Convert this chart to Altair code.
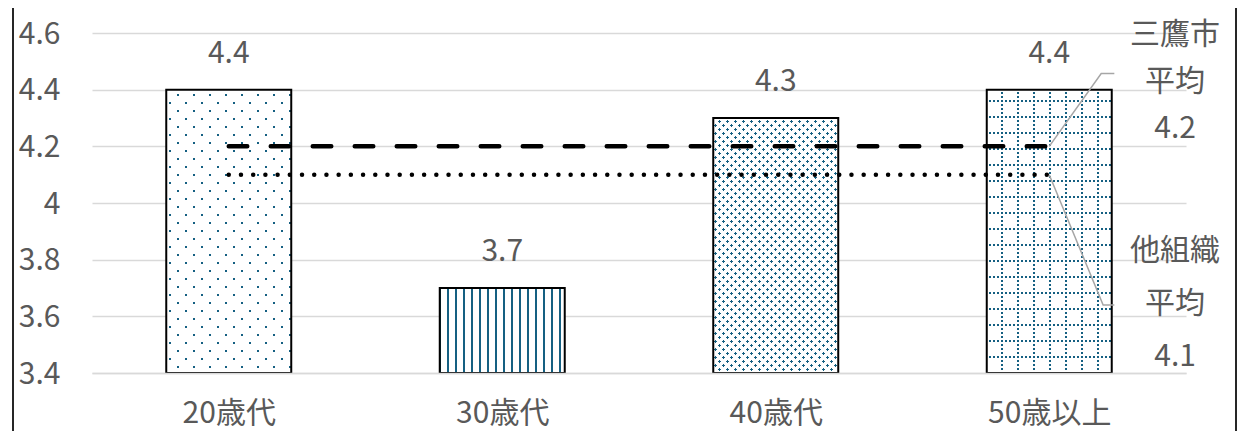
import json
import altair as alt
import pandas as pd

# ---------------- data ----------------
categories = ["20歳代", "30歳代", "40歳代", "50歳以上"]
scores = [4.4, 3.7, 4.3, 4.4]
mitaka_avg = 4.2
other_avg = 4.1
y_ticks = [3.4, 3.6, 3.8, 4.0, 4.2, 4.4, 4.6]
mitaka_label = "三鷹市\n平均\n4.2"
other_label = "他組織\n平均\n4.1"

# ---------------- layout / style constants ----------------
Y_MIN, Y_MAX = 3.4, 4.6
X_MIN, X_MAX = 0.0, 4.0
PLOT_W, PLOT_H = 1094, 340
BAR_FRAC = 0.457
UX = PLOT_W / (X_MAX - X_MIN)
UY = PLOT_H / (Y_MAX - Y_MIN)
BAR_W = BAR_FRAC * UX

TEAL = "#156082"
WHITE = "#ffffff"
CLEAR = "rgba(255,255,255,0)"
TEXT = "#595959"
GRID = "#d9d9d9"
LEADER = "#a6a6a6"
FONT = "Noto Sans CJK JP"
FS = 30

# annotation anchors (data units)
LABEL_X = 3.96
MITAKA_LABEL_Y = 4.457
OTHER_LABEL_Y = 3.640
LEADER_KNEE_X = [3.69, 3.697]
LEADER_END_X = 3.738

xscale = alt.Scale(domain=[X_MIN, X_MAX], nice=False, zero=False)
yscale = alt.Scale(domain=[Y_MIN, Y_MAX], nice=False, zero=False)

pos = [i + 0.5 for i in range(len(categories))]
bars = pd.DataFrame({"cat": categories, "score": scores, "pos": pos})
bars["left"] = bars["pos"] - BAR_FRAC / 2
bars["right"] = bars["pos"] + BAR_FRAC / 2
bars["base"] = Y_MIN

label_expr = json.dumps(categories, ensure_ascii=False) + "[floor(datum.value)]"

X_AXIS = alt.Axis(
    values=pos, labelExpr=label_expr, grid=False, domain=True,
    domainColor=GRID, domainWidth=1.5, ticks=False, tickSize=0,
    labelPadding=25, labelFontSize=FS, labelColor=TEXT, labelFont=FONT,
    labelFlush=False, labelOverlap=False, title=None, zindex=1,
)
Y_AXIS = alt.Axis(
    values=y_ticks, format="~g", grid=True, gridColor=GRID, gridWidth=1.5,
    domain=False, ticks=False, tickSize=0, labelPadding=32,
    labelFontSize=FS, labelColor=TEXT, labelFont=FONT, labelOffset=1,
    title=None, zindex=0,
)


def X(field):
    return alt.X(field, scale=xscale, axis=X_AXIS)


def Y(field):
    return alt.Y(field, scale=yscale, axis=Y_AXIS)


# ---------------- pattern fills via hard-stop gradients ----------------
def stripe_stops(length, period, band, on, off, phase=0.0):
    intervals = []
    k = -1
    while True:
        a = phase + k * period
        if a >= length:
            break
        intervals.append((a, a + band))
        k += 1
    segs = []
    cur = 0.0
    for a, b in intervals:
        a = max(a, 0.0)
        b = min(b, length)
        if b <= a or a < cur:
            continue
        if a > cur:
            segs.append((cur, a, off))
        segs.append((a, b, on))
        cur = b
    if cur < length:
        segs.append((cur, length, off))
    stops = []
    for a, b, c in segs:
        stops.append(alt.GradientStop(color=c, offset=round(a / length, 6)))
        stops.append(alt.GradientStop(color=c, offset=round(b / length, 6)))
    return stops


def grad_x(W, period, band, on, off, phase=0.0):
    return alt.LinearGradient(gradient="linear", stops=stripe_stops(W, period, band, on, off, phase),
                              x1=0, y1=0, x2=1, y2=0)


def grad_y(H, period, band, on, off, phase=0.0):
    return alt.LinearGradient(gradient="linear", stops=stripe_stops(H, period, band, on, off, phase),
                              x1=0, y1=0, x2=0, y2=1)


def grad_diag(W, H, period, band, on, off, up=False, phase=0.0):
    L = W + H
    k = (W + H) / (W * W + H * H)
    stops = stripe_stops(L, period, band, on, off, phase)
    if not up:
        return alt.LinearGradient(gradient="linear", stops=stops, x1=0, y1=0, x2=W * k, y2=H * k)
    return alt.LinearGradient(gradient="linear", stops=stops, x1=0, y1=1, x2=W * k, y2=1 - H * k)


def bar_h(v):
    return (v - Y_MIN) * UY


def bar_layer(cat, fill):
    return (
        alt.Chart(bars)
        .transform_filter(alt.datum.cat == cat)
        .mark_rect(fill=fill)
        .encode(x=X("left:Q"), x2="right:Q", y=Y("score:Q"), y2="base:Q")
    )


layers = []
for cat, v in zip(categories, scores):
    H = bar_h(v)
    W = BAR_W
    if cat == "20歳代":
        fl = [TEAL,
              grad_diag(W, H, 16, 2.8, CLEAR, WHITE, up=False),
              grad_diag(W, H, 16, 2.8, CLEAR, WHITE, up=True)]
    elif cat == "30歳代":
        fl = [WHITE, grad_x(W, 8, 2, TEAL, CLEAR, phase=7)]
    elif cat == "40歳代":
        fl = [TEAL,
              grad_diag(W, H, 8, 2.8, CLEAR, WHITE, up=False),
              grad_diag(W, H, 8, 2.8, CLEAR, WHITE, up=True)]
    else:
        fl = [WHITE,
              grad_x(W, 16, 2, TEAL, CLEAR, phase=14.5),
              grad_y(H, 16, 2, TEAL, CLEAR, phase=10.5),
              grad_x(W, 4, 2, CLEAR, WHITE, phase=2.5),
              grad_y(H, 4, 2, CLEAR, WHITE, phase=2.5)]
    for f in fl:
        layers.append(bar_layer(cat, f))

outline = (
    alt.Chart(bars)
    .mark_rect(fillOpacity=0, stroke="#000000", strokeWidth=2)
    .encode(x=X("left:Q"), x2="right:Q", y=Y("score:Q"), y2="base:Q")
)

avg_df = pd.DataFrame({
    "x": [pos[0], pos[-1], pos[0], pos[-1]],
    "y": [mitaka_avg, mitaka_avg, other_avg, other_avg],
    "series": ["三鷹市平均", "三鷹市平均", "他組織平均", "他組織平均"],
})

dashed = (
    alt.Chart(avg_df)
    .transform_filter(alt.datum.series == "三鷹市平均")
    .mark_line(color="#000000", strokeWidth=4.5, strokeDash=[18.5, 23.5], strokeCap="round")
    .encode(x=X("x:Q"), y=Y("y:Q"))
)
dotted = (
    alt.Chart(avg_df)
    .transform_filter(alt.datum.series == "他組織平均")
    .mark_line(color="#000000", strokeWidth=4.5, strokeDash=[0.01, 12.2], strokeCap="round")
    .encode(x=X("x:Q"), y=Y("y:Q"))
)

value_labels = (
    alt.Chart(bars)
    .mark_text(dy=-27, baseline="alphabetic", align="center", fontSize=FS, color=TEXT, font=FONT)
    .encode(x=X("pos:Q"), y=Y("score:Q"), text=alt.Text("score:Q", format=".1f"))
)

side_df = pd.DataFrame({
    "x": [LABEL_X, LABEL_X],
    "y": [MITAKA_LABEL_Y, OTHER_LABEL_Y],
    "label": [mitaka_label, other_label],
    "which": ["m", "o"],
})
side_mitaka = (
    alt.Chart(side_df)
    .transform_filter(alt.datum.which == "m")
    .mark_text(lineBreak="\n", lineHeight=47, baseline="middle", align="center",
               dy=-39, fontSize=FS, color=TEXT, font=FONT)
    .encode(x=X("x:Q"), y=Y("y:Q"), text="label:N")
)
side_other = (
    alt.Chart(side_df)
    .transform_filter(alt.datum.which == "o")
    .mark_text(lineBreak="\n", lineHeight=53, baseline="middle", align="center",
               dy=-54, fontSize=FS, color=TEXT, font=FONT)
    .encode(x=X("x:Q"), y=Y("y:Q"), text="label:N")
)

leader_df = pd.DataFrame({
    "x": [pos[-1], LEADER_KNEE_X[0], LEADER_END_X, pos[-1], LEADER_KNEE_X[1], LEADER_END_X],
    "y": [mitaka_avg, MITAKA_LABEL_Y, MITAKA_LABEL_Y, other_avg, OTHER_LABEL_Y, OTHER_LABEL_Y],
    "id": ["m", "m", "m", "o", "o", "o"],
    "order": [0, 1, 2, 0, 1, 2],
})
leaders = (
    alt.Chart(leader_df)
    .mark_line(color=LEADER, strokeWidth=1.5)
    .encode(x=X("x:Q"), y=Y("y:Q"), detail="id:N", order="order:Q")
)

frame_df = pd.DataFrame({"side": ["left", "right"]})
frame_left = alt.Chart(frame_df).transform_filter(alt.datum.side == "left").mark_rule(
    color="#262626", strokeWidth=2
).encode(x=alt.value(-79), y=alt.value(-30), y2=alt.value(PLOT_H + 70))
frame_right = alt.Chart(frame_df).transform_filter(alt.datum.side == "right").mark_rule(
    color="#262626", strokeWidth=2
).encode(x=alt.value(1144), y=alt.value(-30), y2=alt.value(PLOT_H + 70))

chart = (
    alt.layer(*layers, outline, dashed, dotted, value_labels, side_mitaka, side_other, leaders,
              frame_left, frame_right)
    .properties(
        width=PLOT_W,
        height=PLOT_H,
        padding={"left": 84, "top": 25, "right": 56, "bottom": 58},
        autosize=alt.AutoSizeParams(type="none"),
        background="white",
    )
    .configure(font=FONT)
    .configure_view(strokeWidth=0)
)

chart.save("out.html", embed_options={"renderer": "svg", "actions": False})
